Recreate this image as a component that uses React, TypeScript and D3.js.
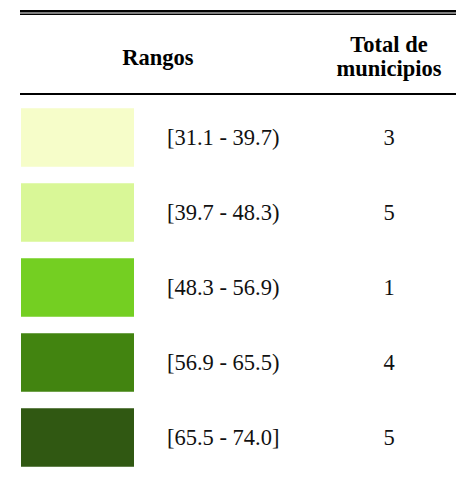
import React, { useRef, useEffect } from 'react';
import * as d3 from 'd3';

// datos de la leyenda
const rangos = ['[31.1 - 39.7)', '[39.7 - 48.3)', '[48.3 - 56.9)', '[56.9 - 65.5)', '[65.5 - 74.0]'];
const totales = [3, 5, 1, 4, 5];
const colores = ['#f6fdc9', '#d9f797', '#74cf22', '#428410', '#305812'];

const LegendTable = ({ width = 456, height = 480 }) => {
    const svgRef = useRef<SVGSVGElement>(null);

    useEffect(() => {
        const svg = d3.select(svgRef.current)
            .attr('width', width)
            .attr('height', height)
            .style('font-family', "'Liberation Serif', 'Times New Roman', Times, serif");

        svg.selectAll('*').remove();

        const left = 20;

        // lineas superiores (doble)
        svg.append('rect').attr('x', left).attr('y', 10).attr('width', width - left).attr('height', 2.5).attr('fill', '#000');
        svg.append('rect').attr('x', left).attr('y', 13.5).attr('width', width - left).attr('height', 1.5).attr('fill', '#000');

        // encabezados
        svg.append('text')
            .attr('x', 158).attr('y', 65)
            .attr('text-anchor', 'middle')
            .style('font-weight', 'bold').style('font-size', '22.5px')
            .text('Rangos');

        const h2 = svg.append('text')
            .attr('text-anchor', 'middle')
            .style('font-weight', 'bold').style('font-size', '22.5px');
        h2.append('tspan').attr('x', 389).attr('y', 52).text('Total de');
        h2.append('tspan').attr('x', 389).attr('y', 76).text('municipios');

        // linea bajo encabezado
        svg.append('rect').attr('x', left).attr('y', 93).attr('width', width - left).attr('height', 2).attr('fill', '#000');

        const y = d3.scaleBand<number>()
            .domain(d3.range(rangos.length))
            .range([100, 475])
            .paddingInner(0.22)
            .paddingOuter(0.11);

        const rows = svg.selectAll('.row')
            .data(rangos)
            .enter()
            .append('g')
            .attr('class', 'row');

        rows.append('rect')
            .attr('x', 21)
            .attr('y', (d, i) => y(i)!)
            .attr('width', 113)
            .attr('height', y.bandwidth())
            .attr('fill', (d, i) => colores[i]);

        rows.append('text')
            .attr('x', 167)
            .attr('y', (d, i) => y(i)! + y.bandwidth() / 2)
            .attr('dy', '0.35em')
            .style('font-size', '22.5px')
            .attr('fill', '#111')
            .text(d => d);

        rows.append('text')
            .attr('x', 389)
            .attr('y', (d, i) => y(i)! + y.bandwidth() / 2)
            .attr('dy', '0.35em')
            .attr('text-anchor', 'middle')
            .style('font-size', '22.5px')
            .attr('fill', '#111')
            .text((d, i) => totales[i]);
    }, [width, height]);

    return (
        <svg ref={svgRef} style={{ position: 'absolute', left: 0, top: 0, background: '#fff' }}></svg>
    );
};

export default function App() {
    return <LegendTable />;
}
